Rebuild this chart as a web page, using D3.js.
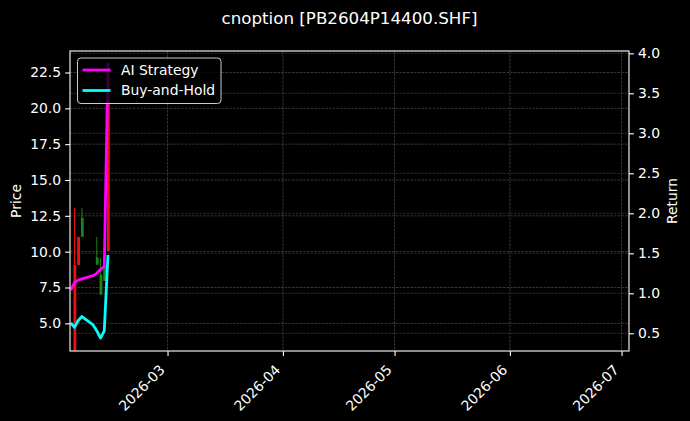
<!DOCTYPE html>
<html>
<head>
<meta charset="utf-8">
<script src="https://cdn.jsdelivr.net/npm/d3@7"></script>
<style>
  html, body { margin: 0; padding: 0; background: #000; }
  svg { display: block; }
</style>
</head>
<body>
<div id="chart"></div>
<script>
// candle data
const candleDates = ['2026-02-04', '2026-02-05', '2026-02-06', '2026-02-10', '2026-02-11', '2026-02-12', '2026-02-13'];
const opens  = [9.07, 11.03, 11.03, 9.10, 7.00, 7.96, 23.17];
const highs  = [13.05, 11.03, 13.05, 11.03, 9.56, 9.07, 23.17];
const lows   = [2.00, 9.07, 11.03, 9.07, 6.98, 7.96, 10.05];
const closes = [2.50, 9.07, 12.35, 9.60, 8.40, 9.07, 10.05];

// return lines
const lineDates = ['2026-02-03', '2026-02-04', '2026-02-05', '2026-02-06', '2026-02-09', '2026-02-10', '2026-02-11', '2026-02-12', '2026-02-13'];
const strategy = [1.04, 1.135, 1.165, 1.18, 1.22, 1.25, 1.30, 1.335, 3.88];
const buyHold  = [0.63, 0.575, 0.66, 0.71, 0.605, 0.53, 0.44, 0.53, 1.48];

const priceTicks = [5.0, 7.5, 10.0, 12.5, 15.0, 17.5, 20.0, 22.5];
const returnTicks = [0.5, 1.0, 1.5, 2.0, 2.5, 3.0, 3.5, 4.0];
const monthTicks = ['2026-03-01', '2026-04-01', '2026-05-01', '2026-06-01', '2026-07-01'];

const W = 690, H = 421;
const pL = 70, pR = 629, pT = 51, pB = 351;
const FONT = 'DejaVu Sans, sans-serif';
const parse = d3.timeParse('%Y-%m-%d');

const x = d3.scaleTime()
  .domain([new Date(2026, 1, 2, 19, 0), new Date(2026, 6, 3, 0, 0)])
  .range([pL, pR]);
const yP = d3.scaleLinear().domain([3.07, 24.0]).range([pB, pT]);
const yR = d3.scaleLinear().domain([0.279, 4.029]).range([pB, pT]);

const svg = d3.select('#chart')
  .append('svg')
  .attr('xmlns', 'http://www.w3.org/2000/svg')
  .attr('width', W)
  .attr('height', H)
  .style('background', '#000');

svg.append('rect').attr('width', W).attr('height', H).attr('fill', '#000');

svg.append('clipPath').attr('id', 'plot')
  .append('rect')
  .attr('x', pL).attr('y', pT)
  .attr('width', pR - pL).attr('height', pB - pT);

// grid
const grid = svg.append('g')
  .attr('stroke', '#4e4e4e')
  .attr('stroke-width', 0.7)
  .attr('stroke-dasharray', '2.6,1.1');

grid.selectAll('line.gx')
  .data(monthTicks)
  .join('line')
  .attr('class', 'gx')
  .attr('x1', d => x(parse(d))).attr('x2', d => x(parse(d)))
  .attr('y1', pT).attr('y2', pB);

grid.selectAll('line.gp')
  .data(priceTicks)
  .join('line')
  .attr('class', 'gp')
  .attr('x1', pL).attr('x2', pR)
  .attr('y1', d => yP(d)).attr('y2', d => yP(d));

grid.selectAll('line.gr')
  .data(returnTicks)
  .join('line')
  .attr('class', 'gr')
  .attr('stroke-opacity', 0.75)
  .attr('x1', pL).attr('x2', pR)
  .attr('y1', d => yR(d)).attr('y2', d => yR(d));

// candles
const candles = candleDates.map((d, i) => ({
  date: parse(d), open: opens[i], high: highs[i], low: lows[i], close: closes[i]
}));
const dayPx = x(new Date(2026, 1, 4)) - x(new Date(2026, 1, 3));
const bodyW = dayPx * 0.75;
const upColor = '#1f9a1f', downColor = '#f01010';

const cg = svg.append('g').attr('clip-path', 'url(#plot)');
const candle = cg.selectAll('g')
  .data(candles)
  .join('g')
  .attr('opacity', d => d.close >= d.open ? 0.85 : 1);

candle.append('line')
  .attr('x1', d => x(d.date)).attr('x2', d => x(d.date))
  .attr('y1', d => yP(d.high)).attr('y2', d => yP(d.low))
  .attr('stroke', d => d.close >= d.open ? upColor : downColor)
  .attr('stroke-width', 1);

candle.append('rect')
  .attr('x', d => x(d.date) - bodyW / 2 + 0.4)
  .attr('width', bodyW)
  .attr('y', d => yP(Math.max(d.open, d.close)))
  .attr('height', d => Math.max(0.8, Math.abs(yP(d.open) - yP(d.close))))
  .attr('fill', d => d.close >= d.open ? upColor : downColor);

// return lines
const line = d3.line()
  .x(d => x(d.date))
  .y(d => yR(d.v));

const series = [
  { name: 'AI Strategy', color: '#ff00ff', values: strategy },
  { name: 'Buy-and-Hold', color: '#00ffff', values: buyHold }
];

cg.selectAll('path.ret')
  .data(series)
  .join('path')
  .attr('class', 'ret')
  .attr('fill', 'none')
  .attr('stroke', d => d.color)
  .attr('stroke-width', 2.8)
  .attr('stroke-linejoin', 'round')
  .attr('d', s => line(lineDates.map((d, i) => ({ date: parse(d), v: s.values[i] }))));

// spines
svg.append('rect')
  .attr('x', pL).attr('y', pT)
  .attr('width', pR - pL).attr('height', pB - pT)
  .attr('fill', 'none')
  .attr('stroke', '#fff')
  .attr('stroke-width', 1.1);

// left axis
const gl = svg.append('g')
  .attr('transform', `translate(${pL},0)`)
  .call(d3.axisLeft(yP).tickValues(priceTicks).tickFormat(d3.format('.1f')).tickSize(4.9).tickPadding(4));
// right axis
const gr = svg.append('g')
  .attr('transform', `translate(${pR},0)`)
  .call(d3.axisRight(yR).tickValues(returnTicks).tickFormat(d3.format('.1f')).tickSize(4.9).tickPadding(4));
// bottom axis
const gb = svg.append('g')
  .attr('transform', `translate(0,${pB})`)
  .call(d3.axisBottom(x).tickValues(monthTicks.map(parse)).tickFormat(d3.timeFormat('%Y-%m')).tickSize(4.9));

[gl, gr, gb].forEach(g => {
  g.select('.domain').remove();
  g.selectAll('line').attr('stroke', '#fff').attr('stroke-width', 1.1);
  g.selectAll('text')
    .attr('fill', '#fff')
    .style('font-family', FONT)
    .style('font-size', '13.9px');
});

gb.selectAll('text')
  .attr('text-anchor', 'end')
  .attr('y', 0)
  .attr('dy', '0.35em')
  .attr('transform', 'translate(-5.7,16.3) rotate(-45)');

// axis labels
svg.append('text')
  .attr('transform', 'translate(21,201) rotate(-90)')
  .attr('text-anchor', 'middle')
  .attr('fill', '#fff')
  .style('font-family', FONT)
  .style('font-size', '13.9px')
  .text('Price');

svg.append('text')
  .attr('transform', 'translate(677,201) rotate(-90)')
  .attr('text-anchor', 'middle')
  .attr('fill', '#fff')
  .style('font-family', FONT)
  .style('font-size', '13.9px')
  .text('Return');

// title
svg.append('text')
  .attr('x', (pL + pR) / 2)
  .attr('y', 24)
  .attr('text-anchor', 'middle')
  .attr('fill', '#fff')
  .style('font-family', FONT)
  .style('font-size', '16.7px')
  .text('cnoption [PB2604P14400.SHF]');

// legend
const lg = svg.append('g').attr('transform', 'translate(77.5,58)');
lg.append('rect')
  .attr('width', 143.5).attr('height', 45.5)
  .attr('rx', 3.5)
  .attr('fill', '#000').attr('fill-opacity', 0.8)
  .attr('stroke', '#cccccc').attr('stroke-width', 1);

const item = lg.selectAll('g')
  .data(series)
  .join('g')
  .attr('transform', (d, i) => `translate(0,${12 + i * 20.5})`);
item.append('line')
  .attr('x1', 5).attr('x2', 33)
  .attr('stroke', d => d.color)
  .attr('stroke-width', 2.8);
item.append('text')
  .attr('x', 43.5)
  .attr('dy', '0.35em')
  .attr('fill', '#fff')
  .style('font-family', FONT)
  .style('font-size', '13.9px')
  .text(d => d.name);
</script>
</body>
</html>
